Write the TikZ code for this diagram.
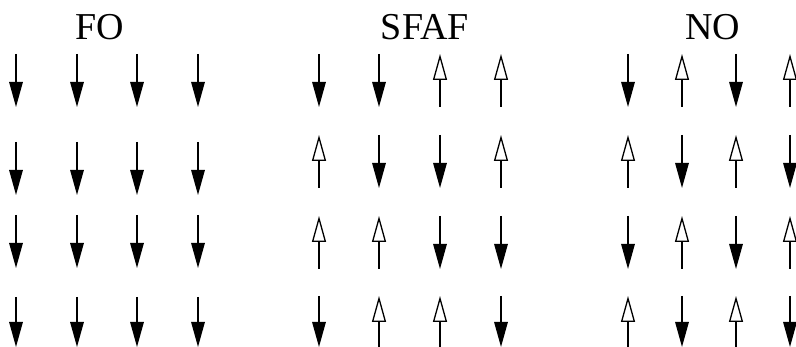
\documentclass[tikz,border=0pt]{standalone}
\usepackage{fontspec}
\setmainfont{Liberation Serif}
\usetikzlibrary{arrows.meta}
\begin{document}
\begin{tikzpicture}[x=1pt,y=-1pt,
  spin/.style={line width=1.5pt},
  spindown/.style={spin,-{Triangle[length=25pt,width=13.5pt]}},
  spinup/.style={spin,-{Triangle[open,length=26pt,width=14pt,line width=1.3pt]}},
  title/.style={font=\fontsize{38}{40}\selectfont,inner sep=0pt,anchor=base}]
\useasboundingbox (0,0) rectangle (796,347);

% panel titles
\node[title] (tFO)   at (100,40) {FO};
\node[title] (tSFAF) at (425,40) {SFAF};
\node[title] (tNO)   at (713,40) {NO};

% ferromagnetic panel: all spins down
\foreach \x in {16,77,137,198}{
  \foreach \t/\b in {54/107,142/195,215/268,297/347}{
    \draw[spindown] (\x,\t) -- (\x,\b);
  }
}

% a spin at column x, row top t, bottom b; direction 1 = down, 0 = up
\newcommand{\spinat}[4]{%
  \ifnum#4=1\relax\draw[spindown] (#1,#2) -- (#1,#3);\else\draw[spinup] (#1,#3) -- (#1,#2);\fi}

% stripe-type panel
\foreach \t/\b/\a/\bb/\c/\d in {54/107/1/1/0/0,135/188/0/1/1/0,216/269/0/0/1/1,296/347/1/0/0/1}{
  \spinat{319}{\t}{\b}{\a}
  \spinat{379}{\t}{\b}{\bb}
  \spinat{440}{\t}{\b}{\c}
  \spinat{501}{\t}{\b}{\d}
}

% Neel-type panel
\foreach \t/\b/\a/\bb/\c/\d in {54/107/1/0/1/0,135/188/0/1/0/1,216/269/1/0/1/0,296/347/0/1/0/1}{
  \spinat{628}{\t}{\b}{\a}
  \spinat{682}{\t}{\b}{\bb}
  \spinat{736}{\t}{\b}{\c}
  \spinat{790}{\t}{\b}{\d}
}
\end{tikzpicture}
\end{document}
